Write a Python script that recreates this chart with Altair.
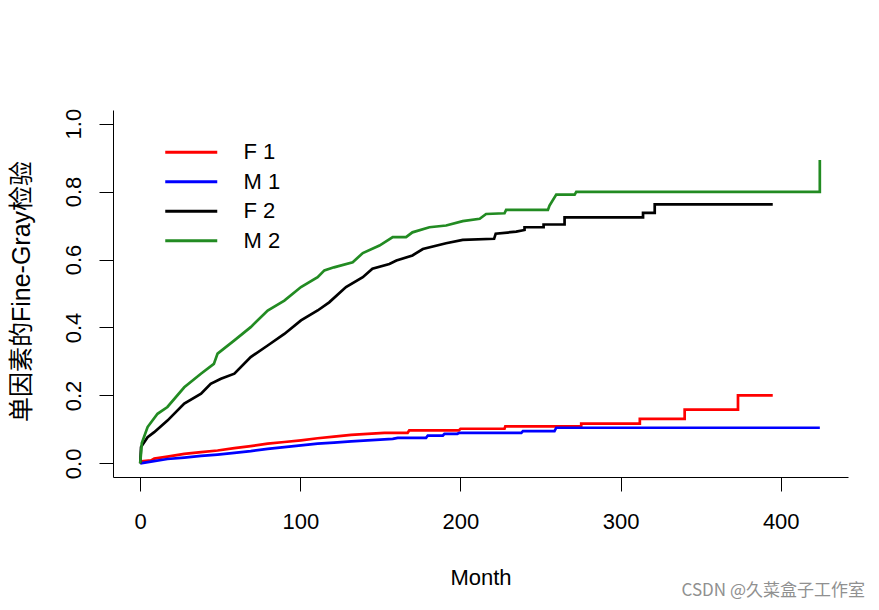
import altair as alt
import pandas as pd

# ---- data (curve vertices, joined by straight segments) ----
series_names = ["F 1", "M 1", "F 2", "M 2"]
series_colors = ["#FF0000", "#0000FF", "#000000", "#228B22"]

f1_t = [0, 1, 6.7, 8.75, 17, 27.5, 38, 48.3, 58.8, 69, 79.6, 90, 100.4, 110.8, 121, 131.7,
        142, 152.5, 167, 168, 199, 200, 227.5, 228, 275.4, 275.4, 312, 312, 340, 340,
        373.3, 373.3, 395]
f1_v = [0.0, 0.006, 0.009, 0.014, 0.02, 0.028, 0.033, 0.038, 0.045, 0.051, 0.058, 0.063,
        0.068, 0.074, 0.079, 0.084, 0.087, 0.09, 0.09, 0.097, 0.097, 0.102, 0.102, 0.109,
        0.109, 0.117, 0.117, 0.131, 0.131, 0.158, 0.158, 0.2, 0.2]

m1_t = [0, 6.7, 17, 27.5, 38, 48.3, 58.8, 69, 79.6, 90, 100.4, 110.8, 121, 131.7, 142,
        152.5, 157.7, 160.8, 178.5, 179.6, 189, 190, 198, 199.4, 238, 239, 258.7, 259.8,
        424.4]
m1_v = [0.0, 0.005, 0.013, 0.017, 0.022, 0.026, 0.031, 0.036, 0.043, 0.048, 0.053, 0.058,
        0.061, 0.065, 0.068, 0.071, 0.072, 0.075, 0.075, 0.082, 0.082, 0.087, 0.087, 0.09,
        0.09, 0.095, 0.095, 0.105, 0.105]

f2_t = [0, 0.5, 4.6, 8.75, 17, 27.5, 38, 44, 50.4, 58.8, 69, 79.6, 90, 100.4, 110.8, 118,
        128.5, 139, 145, 155.6, 160, 170, 176.5, 191, 201.4, 221, 222, 234.8, 240, 240,
        251.9, 251.9, 265, 265, 314, 314, 321.3, 321.3, 395]
f2_v = [0.0, 0.048, 0.077, 0.092, 0.126, 0.176, 0.205, 0.234, 0.249, 0.264, 0.313, 0.347,
        0.381, 0.421, 0.45, 0.474, 0.519, 0.548, 0.573, 0.587, 0.597, 0.612, 0.631, 0.648,
        0.658, 0.661, 0.676, 0.682, 0.687, 0.695, 0.695, 0.703, 0.703, 0.724, 0.724, 0.737,
        0.737, 0.762, 0.762]

m2_t = [0, 1, 4.6, 10.8, 17, 27.5, 37.9, 46, 48.3, 58.8, 69, 79.6, 90, 100.4, 110.8, 115,
        121, 132.7, 139, 149.4, 157.7, 166, 170, 180.6, 191, 201.4, 212, 216, 227.5, 228.5,
        254.6, 255.6, 259.8, 271.3, 272.3, 424.4, 424.4]
m2_v = [0.0, 0.06, 0.107, 0.146, 0.166, 0.224, 0.264, 0.293, 0.323, 0.362, 0.401, 0.45,
        0.479, 0.519, 0.548, 0.568, 0.577, 0.592, 0.619, 0.641, 0.666, 0.666, 0.68, 0.695,
        0.70, 0.713, 0.72, 0.734, 0.736, 0.746, 0.746, 0.759, 0.791, 0.791, 0.799, 0.799,
        0.893]

x_ticks = [0, 100, 200, 300, 400]
y_ticks = [0.0, 0.2, 0.4, 0.6, 0.8, 1.0]
x_title = "Month"
y_title = "单因素的Fine-Gray检验"
watermark = "CSDN @久菜盒子工作室"

rows = []
for name, ts, vs in zip(series_names, [f1_t, m1_t, f2_t, m2_t], [f1_v, m1_v, f2_v, m2_v]):
    for i, (t, v) in enumerate(zip(ts, vs)):
        rows.append({"series": name, "month": t, "value": v, "order": i})
df = pd.DataFrame(rows)

FONT = "Liberation Sans, Arial, Noto Sans CJK SC"
W, H = 735, 367

lines = alt.Chart(df).mark_line(strokeWidth=2.7).encode(
    x=alt.X("month:Q",
            scale=alt.Scale(domain=[-17, 442], nice=False, zero=False),
            axis=alt.Axis(values=x_ticks, format="d", grid=False, tickSize=14,
                          labelPadding=20, labelFontSize=22, labelFont=FONT,
                          labelColor="black", labelFlush=False, labelOverlap=False,
                          domainColor="black", tickColor="black",
                          title=x_title, titleFont=FONT, titleFontSize=22,
                          titleFontWeight="normal", titleColor="black",
                          titleX=W / 2, titleY=100, titleAlign="center",
                          titleBaseline="middle")),
    y=alt.Y("value:Q",
            scale=alt.Scale(domain=[-0.04, 1.04], nice=False, zero=False),
            axis=alt.Axis(values=y_ticks, format=".1f", grid=False, tickSize=14,
                          labelAngle=270, labelAlign="center", labelBaseline="alphabetic",
                          labelPadding=19, labelFontSize=22, labelFont=FONT,
                          labelColor="black", labelFlush=False, labelOverlap=False,
                          domainColor="black", tickColor="black",
                          title=y_title, titleFont=FONT, titleFontSize=25,
                          titleFontWeight="normal", titleColor="black",
                          titleAngle=270, titleX=-92, titleY=181,
                          titleAlign="center", titleBaseline="middle")),
    color=alt.Color("series:N",
                    scale=alt.Scale(domain=series_names, range=series_colors),
                    legend=alt.Legend(orient="none", legendX=66.75, legendY=30.75,
                                      title=None, symbolType="M-2.6,0H2.6",
                                      symbolSize=400, symbolStrokeWidth=3,
                                      labelFontSize=22, labelFont=FONT,
                                      labelColor="black", labelOffset=40.75,
                                      rowPadding=6.5, padding=0)),
    order=alt.Order("order:Q"),
)

wm = alt.Chart(pd.DataFrame({"t": [watermark]})).mark_text(
    align="right", baseline="middle", fontSize=17, color="#909090",
    font="Noto Sans CJK SC"
).encode(x=alt.value(752), y=alt.value(481), text="t:N")

chart = alt.layer(lines, wm).properties(
    width=W, height=H,
    autosize=alt.AutoSizeParams(type="none"),
    padding={"left": 105, "top": 102, "right": 20, "bottom": 125},
).configure_view(stroke=None)

chart.save("out.html", embed_options={"renderer": "svg", "actions": False})
